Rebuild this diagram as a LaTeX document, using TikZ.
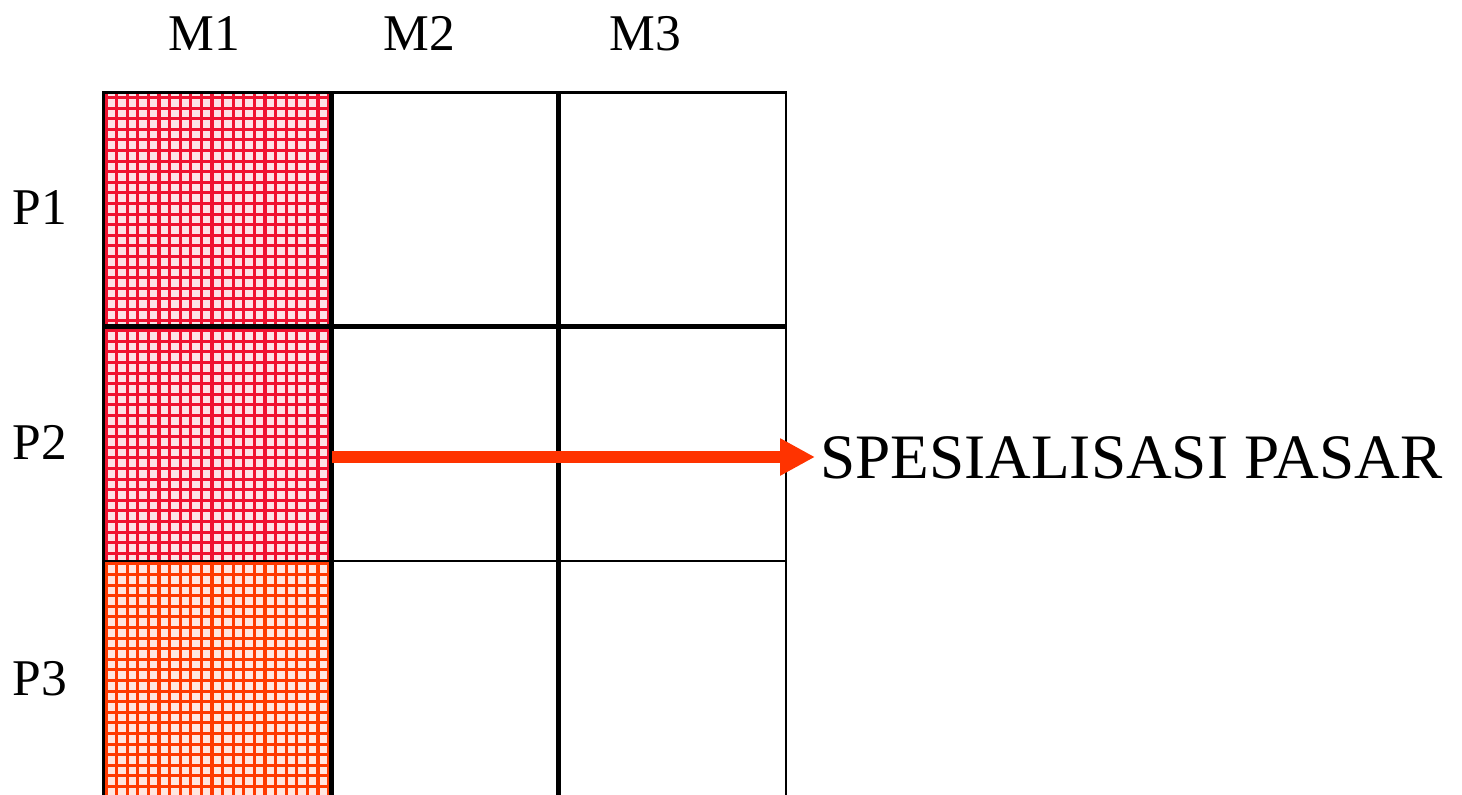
\documentclass[tikz,border=0pt]{standalone}
\usepackage{fontspec}
\setmainfont{Liberation Serif}
\usetikzlibrary{arrows.meta}
\definecolor{meshred}{RGB}{240,18,48}
\definecolor{meshorange}{RGB}{255,58,0}
\definecolor{arrowred}{RGB}{255,51,0}
\begin{document}
\begin{tikzpicture}[x=1pt,y=-1pt,
  axislabel/.style={inner sep=0pt, anchor=base, font=\fontsize{51.5}{51.5}\selectfont},
  bigtext/.style={inner sep=0pt, anchor=base west, font=\fontsize{63.3}{63.3}\selectfont},
  meshline/.style={line width=3.1pt},
  thickrule/.style={line width=5pt, black},
  thinrule/.style={line width=2.2pt, black},
  pointer/.style={line width=12pt, arrowred, -{Triangle[length=35pt,width=35pt]}}]
\useasboundingbox (0,0) rectangle (1462,795);

% hatched mesh in the first column: red for P1 and P2
\begin{scope}
  \clip (104,92) rectangle (332,560);
  \fill[meshred!12] (104,92) rectangle (332,560);
  \foreach \k in {0,...,22}
    \draw[meshline, meshred] ({106+10.6*\k},92) -- ++(0,468);
  \foreach \k in {0,...,44}
    \draw[meshline, meshred] (104,{97.5+10.6*\k}) -- ++(228,0);
\end{scope}
% orange mesh for P3
\begin{scope}
  \clip (104,560) rectangle (332,795);
  \fill[meshorange!12] (104,560) rectangle (332,795);
  \foreach \k in {0,...,22}
    \draw[meshline, meshorange] ({106+10.6*\k},560) -- ++(0,235);
  \foreach \k in {44,...,67}
    \draw[meshline, meshorange] (104,{97.5+10.6*\k}) -- ++(228,0);
\end{scope}

% table rules
\draw[line width=3.5pt] (102,92.5) -- (787,92.5);
\draw[line width=3.5pt] (103.5,92) -- (103.5,795);
\draw[thickrule] (331.5,92) -- (331.5,795);
\draw[thickrule] (558.5,92) -- (558.5,795);
\draw[thinrule] (786,92) -- (786,795);
\draw[thickrule] (104,326) -- (787,326);
\draw[thinrule] (104,561) -- (787,561);

% column headings
\node[axislabel] (m1) at (204,50) {M1};
\node[axislabel] (m2) at (419,50) {M2};
\node[axislabel] (m3) at (645,50) {M3};

% row headings
\node[axislabel] (p1) at (40,224) {P1};
\node[axislabel] (p2) at (40,459) {P2};
\node[axislabel] (p3) at (40,695) {P3};

% market specialisation arrow
\node[bigtext] (spec) at (820,478) {SPESIALISASI PASAR};
\coordinate (start) at (332,457);
\draw[pointer, shorten >=5pt] (start) -- (spec.west |- start);
\end{tikzpicture}
\end{document}
